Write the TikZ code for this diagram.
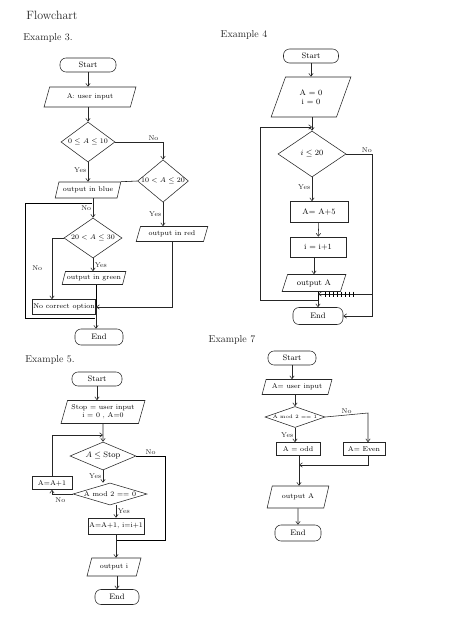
\documentclass[tikz,border=0pt]{standalone}
\usepackage{amsmath}
\usepackage{xcolor}
\usepackage{tikz}
\usetikzlibrary{arrows.meta,positioning,shapes.geometric,calc}
\definecolor{cPen}{HTML}{262626}
\tikzset{
  term/.style  = {draw=cPen, rounded corners=6pt, minimum width=#1,
                  minimum height=14pt, inner sep=1pt, font=\footnotesize},
  term/.default = 48pt,
  io/.style    = {draw=cPen, trapezium, trapezium left angle=68,
                  trapezium right angle=112, trapezium stretches=true,
                  inner sep=1pt, font=\scriptsize},
  dec/.style   = {draw=cPen, diamond, inner sep=0pt, font=\scriptsize},
  proc/.style  = {draw=cPen, rectangle, inner sep=1pt, font=\scriptsize},
  flow/.style  = {-{Straight Barb[length=3pt,width=4.5pt]}, draw=cPen},
  lbl/.style   = {font=\scriptsize, inner sep=1.5pt, text=cPen},
  head/.style  = {font=\normalsize, text=cPen},
}

\begin{document}
\begin{tikzpicture}[x=1pt, y=-1pt, line width=0.55pt]
  \path[use as bounding box, fill=white] (0,0) rectangle (474,617);
  \node[head, font=\large] (ttl) at (52,15) {Flowchart};

  % Example 3
  \node[head] (ex3) at (48,38) {Example 3.};
  \node[term=56pt] (s3) at (88,65) {Start};
  \node[io, minimum width=92pt, minimum height=20pt] (in3) at (90,97) {A: user input};
  \node[dec, shape aspect=1.35, minimum width=54pt, minimum height=40pt] (d31) at (88,142) {$0\le A\le 10$};
  \node[dec, shape aspect=1.2, minimum width=50pt, minimum height=42pt] (d32) at (163,181) {$10<A\le 20$};
  \node[io, minimum width=66pt, minimum height=16pt] (blue) at (88,190) {output in blue};
  \node[dec, shape aspect=1.45, minimum width=58pt, minimum height=40pt] (d33) at (93,238) {$20<A\le 30$};
  \node[io, minimum width=64pt, minimum height=13pt] (green) at (94,278) {output in green};
  \node[io, minimum width=72pt, minimum height=15pt] (red) at (172,234) {output in red};
  \node[proc, minimum width=62pt, minimum height=15pt] (nco) at (64,307) {No correct option};
  \node[term=48pt, minimum height=16pt] (e3) at (99,337) {End};
  \coordinate (b3) at (92,203);
  \coordinate (c3) at (25,318);
  \coordinate (j3) at (95,318);
  \draw[flow] (s3.south) -- (s3.south |- in3.north);
  \draw[flow] (in3.south -| s3.south) -- (d31.north);
  \draw[flow] (d31.east) -| node[lbl, pos=0.4, above] {No} (d32.north);
  \draw[flow] (d31.south) -- node[lbl, left, pos=0.4] {Yes} (d31.south |- blue.north);
  \draw (d32.west) -- (blue.top right corner);
  \draw[flow] (d33.north |- blue.south) -- node[lbl, left] {No} (d33.north);
  \draw (b3) -| (c3) -- (j3);
  \draw[flow] (d32.south) -- node[lbl, left] {Yes} (d32.south |- red.north);
  \draw[flow] (d33.west) -| node[lbl, pos=0.75, left=8pt] {No} ($(nco.north)+(-12,0)$);
  \draw[flow] (d33.south) -- node[lbl, right] {Yes} (d33.south |- green.north);
  \draw (green.south -| nco.east) -- (nco.east);
  \draw[flow] (red.south) |- (nco.east);
  \draw[flow] (nco.east) -- (nco.east |- e3.north);

  % Example 4
  \node[head] (ex4) at (244,35) {Example 4};
  \node[term=55pt] (s4) at (311,56) {Start};
  \node[io, minimum width=80pt, minimum height=40pt, align=center,
        font=\footnotesize] (in4) at (311,97) {A = 0\\ i = 0};
  \node[dec, shape aspect=1.5, minimum width=68pt, minimum height=46pt,
        font=\footnotesize] (d4) at (312,154) {$i\le 20$};
  \node[proc, minimum width=58pt, minimum height=21pt, font=\footnotesize] (p41) at (319,212) {A= A+5};
  \node[proc, minimum width=56pt, minimum height=20pt, font=\footnotesize] (p42) at (318,247) {i = i+1};
  \node[io, minimum width=64pt, minimum height=17pt, font=\footnotesize] (o4) at (314,283) {output A};
  \node[term=50pt, minimum height=17pt] (e4) at (318,316) {End};
  \coordinate (j4) at (318,300);
  \coordinate (l4b) at (260,300);
  \coordinate (l4t) at (260,127);
  \coordinate (n4) at (372,316);
  \coordinate (x4) at (372,294);
  \draw[flow] (s4) -- (in4);
  \draw[flow] (in4.south -| d4.north) -- (d4.north);
  \draw[flow] (d4.east) -| node[lbl, pos=0.4, above] {No} (n4) -- (e4.east);
  \draw[flow] (d4.south) -- node[lbl, left, pos=0.4] {Yes} (d4.south |- p41.north);
  \draw[flow] (p41) -- (p42);
  \draw[flow] (p42.south -| o4.north) -- (o4.north);
  \draw (j4 |- o4.south) -- (j4);
  \draw[flow] (j4) -- (e4.north);
  \draw[flow] (j4) -- (l4b) -- (l4t) -- (l4t -| d4.north);
  \draw[flow] (x4) -- (x4 -| j4);
  \foreach \k in {1,...,8}
    \draw[line width=0.45pt] ($(x4 -| j4)+(3+\k*4,-2.5)$) -- ++(0,5);

  % Example 5
  \node[head] (ex5) at (50,360) {Example 5.};
  \node[term=50pt] (s5) at (97,379) {Start};
  \node[io, minimum width=84pt, minimum height=23pt, align=center,
        inner sep=0pt] (in5) at (103,412) {Stop = user input\\ i = 0 , A=0};
  \node[dec, shape aspect=2.4, minimum width=66pt, minimum height=28pt,
        font=\footnotesize] (d51) at (103,456) {$A\le \mathrm{Stop}$};
  \node[proc, minimum width=40pt, minimum height=13pt] (p51) at (52,483) {A=A+1};
  \node[dec, shape aspect=3.3, minimum width=74pt, minimum height=22pt] (d52) at (110,494) {A mod 2 == 0};
  \node[proc, minimum width=56pt, minimum height=16pt] (p52) at (116,526) {A=A+1, i=i+1};
  \node[io, minimum width=54pt, minimum height=18pt] (o5) at (114,567) {output i};
  \node[term=44pt, minimum height=15pt] (e5) at (117,597) {End};
  \coordinate (l5) at (52,435);
  \coordinate (n5) at (165,540);
  \draw[flow] (s5.south) -- (s5.south |- in5.north);
  \draw[flow] (in5.south) -- (d51.north);
  \draw[flow] (p51.north) -- (l5) -- (l5 -| d51.north);
  \draw[flow] (d51.south) -- node[lbl, left] {Yes} (d51.south |- d52.north);
  \draw[flow] (d52.west) -| node[lbl, pos=0.3, below=2pt] {No} (p51.south);
  \draw (d51.east) -| node[lbl, pos=0.25, above] {No} (n5) -- (n5 -| p52.south);
  \draw[flow] (d52.south -| p52.north) -- node[lbl, right] {Yes} (p52.north);
  \draw[flow] (p52.south) -- (p52.south |- o5.north);
  \draw[flow] (o5.south -| e5.north) -- (e5.north);

  % Example 7
  \node[head] (ex7) at (232,340) {Example 7};
  \node[term=48pt] (s7) at (292,358) {Start};
  \node[io, minimum width=70pt, minimum height=15pt] (in7) at (297,387) {A= user input};
  \node[dec, shape aspect=2.9, minimum width=60pt, minimum height=21pt,
        font=\tiny] (d7) at (295,417) {A mod 2 == 1};
  \node[proc, minimum width=44pt, minimum height=13pt] (p71) at (298,449) {A = odd};
  \node[proc, minimum width=42pt, minimum height=13pt] (p72) at (364,449) {A= Even};
  \node[io, minimum width=62pt, minimum height=22pt] (o7) at (298,497) {output A};
  \node[term=46pt, minimum height=16pt] (e7) at (298,533) {End};
  \coordinate (j7) at (299,465);
  \coordinate (n7) at (368,413);
  \draw[flow] (s7.south) -- (s7.south |- in7.north);
  \draw[flow] (in7.south -| d7.north) -- (d7.north);
  \draw[flow] (d7.east) -- node[lbl, above] {No} (n7) -- (n7 |- p72.north);
  \draw[flow] (d7.south) -- node[lbl, left] {Yes} (d7.south |- p71.north);
  \draw[flow] (p72.south -| n7) |- (j7);
  \draw[flow] (p71.south -| j7) -- (j7 |- o7.north);
  \draw[flow] (o7.south) -- (e7.north);
\end{tikzpicture}
\end{document}
